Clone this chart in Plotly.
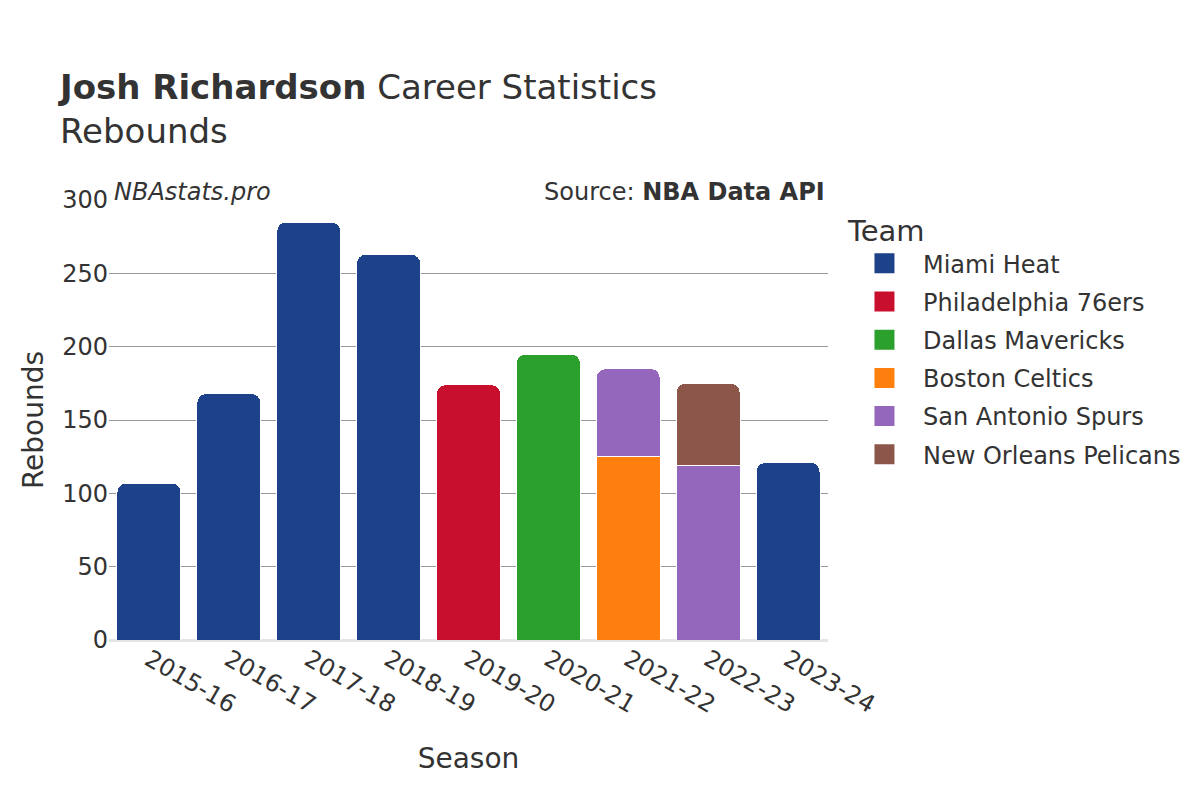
import plotly.graph_objects as go

seasons = ["2015-16", "2016-17", "2017-18", "2018-19", "2019-20", "2020-21", "2021-22", "2022-23", "2023-24"]
teams = ["Miami Heat", "Philadelphia 76ers", "Dallas Mavericks", "Boston Celtics", "San Antonio Spurs", "New Orleans Pelicans"]
colors = ["#1d428a", "#c8102e", "#2ca02c", "#ff7f0e", "#9467bd", "#8c564b"]

miami_seasons = ["2015-16", "2016-17", "2017-18", "2018-19", "2023-24"]
miami_reb = [107, 168, 285, 263, 121]
phi_seasons = ["2019-20"]
phi_reb = [174]
dal_seasons = ["2020-21"]
dal_reb = [195]
bos_seasons = ["2021-22"]
bos_reb = [125]
sas_seasons = ["2021-22", "2022-23"]
sas_reb = [60, 119]
nop_seasons = ["2022-23"]
nop_reb = [56]

series = [
    (miami_seasons, miami_reb),
    (phi_seasons, phi_reb),
    (dal_seasons, dal_reb),
    (bos_seasons, bos_reb),
    (sas_seasons, sas_reb),
    (nop_seasons, nop_reb),
]

fig = go.Figure()
for name, color, (x, y) in zip(teams, colors, series):
    fig.add_trace(go.Bar(
        x=x, y=y, name=name, legendgroup=name, showlegend=False,
        marker=dict(color=color, line=dict(color="white", width=1)),
    ))
# legend-only entries with larger square swatches
for name, color in zip(teams, colors):
    fig.add_trace(go.Scatter(
        x=[None], y=[None], mode="markers", name=name, legendgroup=name,
        marker=dict(symbol="square", size=16, color=color, line=dict(color=color, width=4)),
        hoverinfo="skip",
    ))

font = "DejaVu Sans"
fig.update_layout(
    width=1200, height=800,
    barmode="stack",
    bargap=0.2,
    barcornerradius=9,
    plot_bgcolor="white",
    paper_bgcolor="white",
    font=dict(family=font, color="#333333", size=24),
    margin=dict(l=101, r=380, t=192, b=168),
    title=dict(
        text="<b>Josh Richardson</b> Career Statistics<br>Rebounds",
        x=52 / 1200, xanchor="left", y=0.886, yanchor="top",
        font=dict(size=34, family=font, color="#333333"),
    ),
    xaxis=dict(
        title=dict(text="Season", font=dict(size=28), standoff=30),
        categoryorder="array", categoryarray=seasons,
        tickangle=30,
        tickfont=dict(size=24),
        showgrid=False,
        automargin=False,
    ),
    yaxis=dict(
        title=dict(text="Rebounds", font=dict(size=28), standoff=10),
        range=[0, 300],
        dtick=50,
        gridcolor="#999999",
        gridwidth=1,
        zeroline=True, zerolinecolor="#e5e5e5", zerolinewidth=3,
        tickfont=dict(size=24),
        automargin=False,
    ),
    legend=dict(
        title=dict(text="Team", font=dict(size=29)),
        x=1.025, xanchor="left", y=0.992, yanchor="top",
        font=dict(size=24),
        traceorder="grouped",
        itemwidth=67,
        itemsizing="trace",
        tracegroupgap=4,
    ),
    annotations=[
        dict(text="<i>NBAstats.pro</i>", xref="paper", yref="paper", x=0, y=1.0,
             xanchor="left", yanchor="bottom", showarrow=False, xshift=3, yshift=-8,
             font=dict(size=24, family=font, color="#333333")),
        dict(text="Source: <b>NBA Data API</b>", xref="paper", yref="paper", x=1.0, y=1.0,
             xanchor="right", yanchor="bottom", showarrow=False, xshift=-1, yshift=-8,
             font=dict(size=24, family=font, color="#333333")),
    ],
)

fig.write_html("out.html")
